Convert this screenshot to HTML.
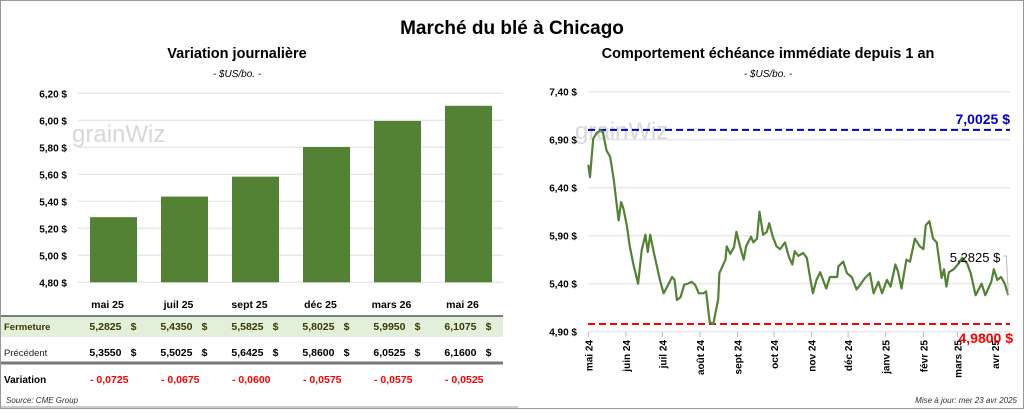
<!DOCTYPE html>
<html><head><meta charset="utf-8"><style>
body{margin:0;width:1024px;height:409px;overflow:hidden;background:#fff;font-family:"Liberation Sans",sans-serif}
svg text{font-family:"Liberation Sans",sans-serif}
</style></head><body>
<svg id="c" width="1024" height="409" viewBox="0 0 1024 409">
<rect x="0.5" y="0.5" width="1023" height="408" fill="#fff" stroke="#999"/>
<text x="512" y="34" text-anchor="middle" font-size="19" font-weight="bold">Marché du blé à Chicago</text>
<text x="237" y="58" text-anchor="middle" font-size="14.5" font-weight="bold">Variation  journalière</text>
<text x="237" y="77" text-anchor="middle" font-size="10" font-style="italic">- $US/bo. -</text>
<text x="768" y="58" text-anchor="middle" font-size="14.5" font-weight="bold">Comportement échéance immédiate depuis 1 an</text>
<text x="768" y="77" text-anchor="middle" font-size="10" font-style="italic">- $US/bo. -</text>
<text x="72" y="142" font-size="24" fill="#d8d8d8">grainWiz</text>
<text x="575" y="139" font-size="24" fill="#d8d8d8">grainWiz</text>
<g id="left"></g>
<g id="table"></g>
<g id="right"></g>
<text x="6" y="403" font-size="8" font-style="italic" fill="#333">Source: CME Group</text>
<text x="1017" y="403" text-anchor="end" font-size="8" font-style="italic" fill="#333">Mise à jour: mer 23 avr 2025</text>
</svg>
<script>
const NS="http://www.w3.org/2000/svg";
const contracts=["mai 25","juil 25","sept 25","déc 25","mars 26","mai 26"];
const closeVals=[5.2825,5.4350,5.5825,5.8025,5.9950,6.1075];
const prevVals=[5.3550,5.5025,5.6425,5.8600,6.0525,6.1600];
const leftTicks=[4.80,5.00,5.20,5.40,5.60,5.80,6.00,6.20];
const days=[0,1.4,4,7,10,12,15,18,21,23,25,27,29,32,34,37,41,44,47,49,51,54,56,59,62,65,69,71,73,76,79,82,85,88,91,95,97,100,103,107,108,113,114,117,120,122,125,128,130,134,136,139,141,144,147,149,152,155,158,162,165,168,170,173,177,180,183,185,188,191,196,199,205,206,210,213,217,221,224,228,232,235,239,242,246,249,253,255,258,262,265,269,273,276,278,281,284,287,291,293,295,297,301,305,308,312,315,319,324,327,332,334,337,340,343,346];
const prices=[6.64,6.51,6.91,6.97,7.00,6.98,6.79,6.72,6.48,6.27,6.06,6.25,6.18,5.99,5.80,5.61,5.40,5.75,5.91,5.73,5.91,5.72,5.61,5.44,5.30,5.37,5.47,5.44,5.23,5.26,5.39,5.40,5.42,5.39,5.30,5.30,5.32,5.00,4.98,5.24,5.51,5.65,5.79,5.71,5.78,5.94,5.79,5.65,5.79,5.89,5.83,5.87,6.15,5.91,5.94,6.03,5.89,5.79,5.76,5.83,5.69,5.60,5.74,5.69,5.72,5.67,5.44,5.30,5.44,5.52,5.35,5.47,5.47,5.58,5.63,5.51,5.47,5.34,5.39,5.46,5.51,5.30,5.42,5.30,5.44,5.37,5.60,5.53,5.35,5.65,5.63,5.87,5.79,5.76,6.01,6.05,5.87,5.83,5.46,5.55,5.37,5.52,5.55,5.61,5.67,5.61,5.51,5.28,5.40,5.28,5.42,5.55,5.44,5.47,5.40,5.28];
const rightTicks=[4.90,5.40,5.90,6.40,6.90,7.40];
const monthLabels=["mai 24","juin 24","juil 24","août 24","sept 24","oct 24","nov 24","déc 24","janv 25","févr 25","mars 25","avr 25"];
const monthDays=[0,31,61,92,123,153,184,214,245,276,304,335];
const highVal=7.0025, lowVal=4.98, lastVal=5.2825;
function mk(p,t,a,txt){const e=document.createElementNS(NS,t);for(const k in a)e.setAttribute(k,a[k]);if(txt!=null)e.textContent=txt;p.appendChild(e);return e;}
const fmt=(v,d)=>v.toFixed(d).replace('.',',');
const L=document.getElementById('left');
const ly=v=>282.3-(v-4.8)/(1.4)*189;
const lx0=78,band=71;
leftTicks.forEach(t=>{
 const g=mk(L,'line',{x1:lx0,x2:503,y1:ly(t),y2:ly(t),stroke:'#ddd','stroke-width':1});
 
 const tx=mk(L,'text',{x:67,y:ly(t)+4,'text-anchor':'end','font-size':10,'font-weight':'bold'},fmt(t,2)+' $');
 
});
closeVals.forEach((v,i)=>{
 const cx=lx0+band*(i+0.5);
 const r=mk(L,'rect',{x:cx-23.5,y:ly(v),width:47,height:ly(4.8)-ly(v),fill:'#548235'});
 
});
const T=document.getElementById('table');
const bg=mk(T,'rect',{x:1,y:316,width:502,height:21,fill:'#e2efda'});

const l1=mk(T,'line',{x1:1,x2:503,y1:316,y2:316,stroke:'#555','stroke-width':1.5});

const l2=mk(T,'line',{x1:1,x2:503,y1:363,y2:363,stroke:'#777','stroke-width':3});

const l3=mk(T,'line',{x1:1,x2:518,y1:407,y2:407,stroke:'#999','stroke-width':1});

const lab=[["Fermeture",330,'bold','#3a3a00',9.5],["Précédent",356,'normal','#222',9.5],["Variation",383,'bold','#000',10]];
lab.forEach(l=>{const t=mk(T,'text',{x:4,y:l[1],'font-size':l[4],'font-weight':l[2],fill:l[3]},l[0]);});
contracts.forEach((c,i)=>{
 const cx=lx0+band*(i+0.5);
 const h=mk(T,'text',{x:cx-6,y:308,'text-anchor':'middle','font-size':10.5,'font-weight':'bold'},c);
 
 const a=mk(T,'text',{x:cx+8,y:330,'text-anchor':'end','font-size':10.5,'font-weight':'bold',fill:'#3a3a00'},fmt(closeVals[i],4));
 
 const a2=mk(T,'text',{x:cx+23,y:330,'text-anchor':'end','font-size':10.5,'font-weight':'bold',fill:'#3a3a00'},'$');
 
 const b=mk(T,'text',{x:cx+8,y:356,'text-anchor':'end','font-size':10.5,'font-weight':'bold'},fmt(prevVals[i],4));
 
 const b2=mk(T,'text',{x:cx+23,y:356,'text-anchor':'end','font-size':10.5,'font-weight':'bold'},'$');
 
 const d=closeVals[i]-prevVals[i];
 const v=mk(T,'text',{x:cx+15,y:383,'text-anchor':'end','font-size':10.5,'font-weight':'bold',fill:'#f00'},(d<0?'- ':'+ ')+fmt(Math.abs(d),4));
 
});
const R=document.getElementById('right');
const ry=v=>331.7-(v-4.9)/2.5*240;
const rx=d=>588.3+d*1.214;
rightTicks.forEach(t=>{
 const g=mk(R,'line',{x1:588,x2:1010,y1:ry(t),y2:ry(t),stroke:'#ddd','stroke-width':1});
 
 const tx=mk(R,'text',{x:577,y:ry(t)+4,'text-anchor':'end','font-size':10,'font-weight':'bold'},fmt(t,2)+' $');
 
});
monthLabels.forEach((m,i)=>{
 const x=rx(monthDays[i]);
 const tk=mk(R,'line',{x1:x,x2:x,y1:332,y2:337,stroke:'#bbb'});
 
 const tx=mk(R,'text',{transform:`translate(${x+4},340) rotate(-90)`,'text-anchor':'end','font-size':10,'font-weight':'bold'},m);
 
});
const hl=mk(R,'line',{x1:588,x2:1010,y1:ry(highVal),y2:ry(highVal),stroke:'#0000cc','stroke-width':2,'stroke-dasharray':'7,4'});

const ht=mk(R,'text',{x:1010,y:ry(highVal)-6,'text-anchor':'end','font-size':14,'font-weight':'bold',fill:'#0000cc'},fmt(highVal,4)+' $');

const ll=mk(R,'line',{x1:588,x2:1010,y1:ry(lowVal),y2:ry(lowVal),stroke:'#f00','stroke-width':2,'stroke-dasharray':'7,4'});

const lt=mk(R,'text',{x:1013,y:ry(lowVal)+19,'text-anchor':'end','font-size':14,'font-weight':'bold',fill:'#f00'},fmt(lowVal,4)+' $');

const pts=days.map((d,i)=>rx(d).toFixed(1)+','+ry(prices[i]).toFixed(1)).join(' ');
const pl=mk(R,'polyline',{points:pts,fill:'none',stroke:'#548235','stroke-width':2.2,'stroke-linejoin':'round'});

const lastX=rx(days[days.length-1]),lastY=ry(prices[prices.length-1]);
const cl=mk(R,'polyline',{points:`${lastX},${lastY} ${lastX-2},256 ${lastX-5},256`,fill:'none',stroke:'#bbb'});

const lv=mk(R,'text',{x:lastX-8,y:262,'text-anchor':'end','font-size':13,fill:'#000'},fmt(lastVal,4)+' $');

</script>
</body></html>
